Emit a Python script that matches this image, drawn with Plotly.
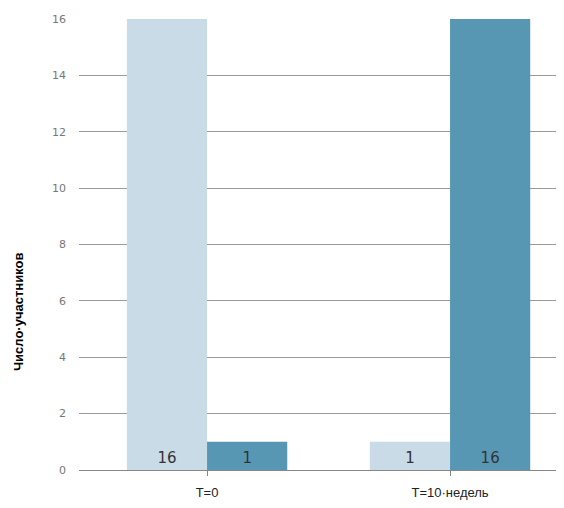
import plotly.graph_objects as go

categories = ["T=0", "T=10·недель"]
series_light = [16, 1]
series_dark = [1, 16]
y_ticks = [0, 2, 4, 6, 8, 10, 12, 14, 16]
y_title = "Число·участников"

fig = go.Figure()
fig.add_trace(go.Bar(
    x=categories, y=series_light,
    marker=dict(color="#c8dbe7", line=dict(width=0)),
    text=[str(v) for v in series_light],
    textposition="inside", insidetextanchor="start",
    textfont=dict(color="#333333", size=15, family="DejaVu Sans"),
    textangle=0,
))
fig.add_trace(go.Bar(
    x=categories, y=series_dark,
    marker=dict(color="#5897b4", line=dict(width=0)),
    text=[str(v) for v in series_dark],
    textposition="inside", insidetextanchor="start",
    textfont=dict(color="#333333", size=15, family="DejaVu Sans"),
    textangle=0,
))

# подпись оси сдвинута ниже центра, как в оригинале
fig.add_annotation(
    text=f"<b>{y_title}</b>", textangle=-90,
    xref="paper", yref="paper", x=-0.126, y=0.35,
    xanchor="center", yanchor="middle", showarrow=False,
    font=dict(size=13, color="#000000", family="Liberation Sans, Arial"),
)

# страница добавляет отступ 8px, поэтому фигура чуть меньше окна
fig.update_layout(
    width=556, height=500,
    margin=dict(l=71, r=0, t=11, b=38),
    plot_bgcolor="white", paper_bgcolor="white",
    barmode="group", bargap=0.34, bargroupgap=0,
    showlegend=False,
    font=dict(family="Liberation Sans, Arial", color="#222222"),
    xaxis=dict(
        range=[-0.527, 1.469],
        ticks="outside", ticklen=5, tickcolor="#888888",
        tickfont=dict(size=13, color="#222222"),
        ticklabelstandoff=5,
        showline=False, showgrid=False,
    ),
    yaxis=dict(
        range=[0, 16], tickvals=y_ticks,
        showgrid=True, gridcolor="#9a9a9a", gridwidth=1,
        zeroline=True, zerolinecolor="#888888", zerolinewidth=1,
        tickfont=dict(size=11, color="#777777", family="DejaVu Sans"),
        ticks="", ticklabelstandoff=12,
    ),
)

fig.write_html("out.html")
